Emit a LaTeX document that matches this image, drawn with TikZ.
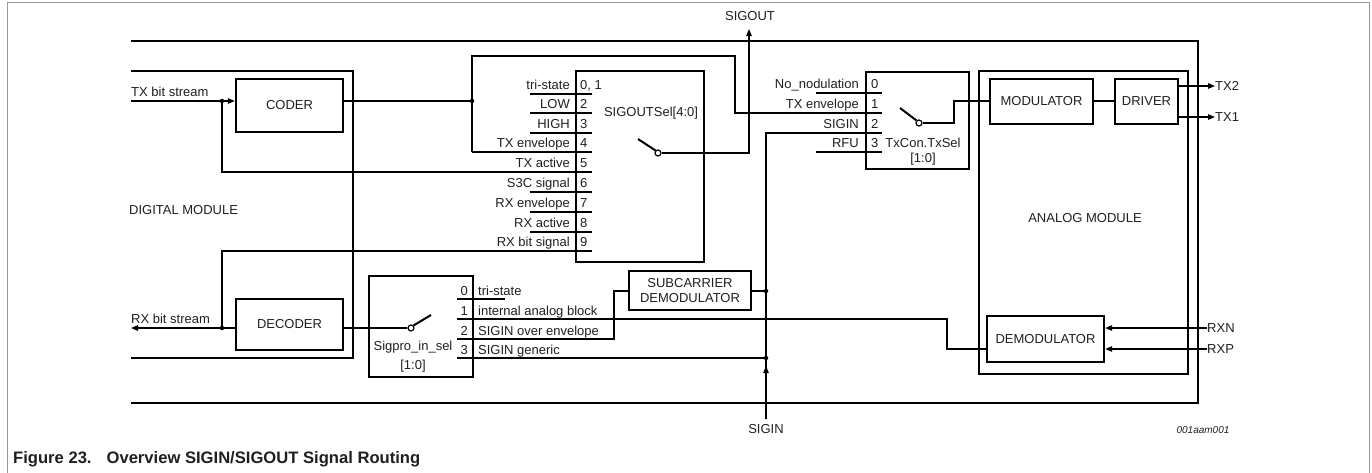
\documentclass[tikz,border=0pt]{standalone}
\usepackage{fontspec}
\setmainfont{Liberation Sans}
\usetikzlibrary{arrows.meta}
\begin{document}
\begin{tikzpicture}[x=1pt,y=-1pt,
  font=\fontsize{13}{16}\selectfont, text=black!88,
  thin/.style={line width=1.2pt},
  modline/.style={line width=2.7pt},
  box/.style={draw, line width=2.4pt, inner sep=0pt, align=center},
  dot/.style={circle, fill, inner sep=0pt, minimum size=4.5pt},
  sw/.style={circle, draw, fill=white, line width=1.2pt, inner sep=0pt, minimum size=6pt},
  lever/.style={line width=2pt},
  arr/.style={-{Triangle[length=7pt,width=5.5pt]}},
  lbl/.style={inner sep=0pt, text height=9.3pt, text depth=0pt}]
\useasboundingbox (0,0) rectangle (1372,472);
% outer frame
\draw[black!40, line width=1pt] (7,480) -- (7,2) -- (1369,2) -- (1369,480);
% chip and module outlines
\draw[modline] (131,41) -- (1198,41) -- (1198,403) -- (131,403);
\draw[modline] (131,71) -- (353,71) -- (353,358) -- (131,358);
\node[draw, modline, minimum width=209pt, minimum height=303pt, inner sep=0pt] (analog) at (1083.5,222.5) {};
\node at (1085,218) {ANALOG MODULE};
\node[anchor=west, inner sep=0pt] at (129,210) {DIGITAL MODULE};
% boxes
\node[box, minimum width=107pt, minimum height=53pt] (coder) at (289.5,105.5) {CODER};
\node[box, minimum width=107pt, minimum height=51pt] (decoder) at (289.5,324.5) {DECODER};
\node[box, minimum width=128pt, minimum height=191pt] (sosel) at (640,166.5) {};
\node[box, minimum width=103pt, minimum height=97pt] (txcon) at (917.5,120.5) {};
\node[box, minimum width=104pt, minimum height=101pt] (sigpro) at (421,326.5) {};
\node[box, minimum width=122pt, minimum height=39pt] (subc) at (690,290.5) {SUBCARRIER\\[-1pt]DEMODULATOR};
\node[box, minimum width=103pt, minimum height=45pt] (mod) at (1041.5,101.5) {MODULATOR};
\node[box, minimum width=63pt, minimum height=45pt] (drv) at (1146.5,101.5) {DRIVER};
\node[box, minimum width=117pt, minimum height=46pt] (demod) at (1045.5,339) {DEMODULATOR};
% box texts
\node at (651,113) {SIGOUTSel[4:0]};
\node at (923,143) {TxCon.TxSel};
\node at (923,159) {[1:0]};
\node at (413,347) {Sigpro\_in\_sel};
\node at (413,366) {[1:0]};
% SIGOUTSel pins
\foreach \y/\lab/\num [count=\i] in {94/tri-state/{0, 1},113/LOW/2,133/HIGH/3,152/TX envelope/4,172/TX active/5,192/S3C signal/6,212/RX envelope/7,232/RX active/8,251/RX bit signal/9}{
  \node[lbl, anchor=east] at (570,\y-9) {\lab};
  \node[lbl, anchor=west] at (580,\y-9) {\num};
  \coordinate (so\i) at (592,\y);
  \draw[thin] (530,\y) -- (so\i);
}
% TxCon pins
\foreach \y/\lab/\num [count=\i] in {93/No\_nodulation/0,113/TX envelope/1,133/SIGIN/2,152/RFU/3}{
  \node[lbl, anchor=east] at (859,\y-9) {\lab};
  \node[lbl, anchor=west] at (871,\y-9) {\num};
  \coordinate (tc\i) at (882,\y);
  \draw[thin] (816,\y) -- (tc\i);
}
% Sigpro pins
\foreach \y/\lab/\num [count=\i] in {299/tri-state/0,319/internal analog block/1,339/SIGIN over envelope/2,358/SIGIN generic/3}{
  \node[lbl, anchor=east] at (468,\y-8.5) {\num};
  \node[lbl, anchor=west] at (478,\y-8.5) {\lab};
  \coordinate (sp\i) at (457,\y);
}
\draw[thin] (sp1) -- (505,299);
% switches
\node[sw] (sosw) at (658,153) {};
\draw[lever] (638,139) -- (sosw.north west);
\node[sw] (tcsw) at (919,123) {};
\draw[lever] (900,108) -- (tcsw.north west);
\node[sw] (spsw) at (411,328) {};
\draw[lever] (spsw.north east) -- (431,315);
% external labels
\node (sigout) at (750,16) {SIGOUT};
\coordinate (sigouttip) at (749,29);
\node (sigin) at (766,429) {SIGIN};
\coordinate (siginbot) at (766,419);
\node[anchor=west, inner sep=0pt] at (131,92) {TX bit stream};
\node[anchor=west, inner sep=0pt] at (131,319) {RX bit stream};
\coordinate (txin) at (131,101);
\coordinate (rxout) at (131,328);
\node[anchor=west, inner sep=0pt] (tx2) at (1215,86) {TX2};
\node[anchor=west, inner sep=0pt] (tx1) at (1215,117) {TX1};
\node[anchor=west, inner sep=0pt] (rxn) at (1207,328) {RXN};
\node[anchor=west, inner sep=0pt] (rxp) at (1207,349) {RXP};
% dots
\node[dot] (dtx) at (222,101) {};
\node[dot] (drx) at (222,328) {};
\node[dot] (dcod) at (472,101) {};
\node[dot] (dsub) at (766,291) {};
\node[dot] (dgen) at (766,358) {};
% connectors
\draw[thin, arr] (txin) -- (coder.west |- txin);
\draw[thin] (dtx) -- (222,172) -- (so5);
\draw[thin, arr] (decoder.west |- rxout) -- (rxout);
\draw[thin] (drx) -- (222,251) -- (so9);
\draw[thin] (coder.east |- dcod) -- (dcod);
\draw[thin] (472,152) -- (so4);
\draw[thin] (so4 -| dcod) -- (472,56) -- (735,56) -- (735,113) -- (tc2);
\draw[thin, arr] (sosw.east) -- (sigouttip |- sosw) -- (sigouttip);
\draw[thin] (siginbot) -- (766,133) -- (tc3);
\draw[thin, arr] (siginbot) -- (766,366);
\draw[thin] (subc.east |- dsub) -- (dsub);
\draw[thin] (subc.west |- dsub) -- (614,291) -- (614,339) -- (sp3);
\draw[thin] (sp4) -- (dgen);
\draw[thin] (sp2) -- (947,319) -- (947,349) -- (demod.west |- 0,349);
\draw[thin] (decoder.east |- spsw) -- (spsw.west);
\draw[thin] (tcsw.east) -- (954,123) -- (954,101) -- (mod.west |- 0,101);
\draw[thin] (mod.east |- 0,101) -- (drv.west |- 0,101);
\draw[thin, arr] (drv.east |- tx2) -- (tx2.west);
\draw[thin, arr] (drv.east |- tx1) -- (tx1.west);
\draw[thin, arr] (rxn.west) -- (demod.east |- rxn);
\draw[thin, arr] (rxp.west) -- (demod.east |- rxp);
% figure id and caption
\node[font=\itshape\fontsize{10}{12}\selectfont] at (1203,430) {001aam001};
\node[anchor=west, inner sep=0pt, font=\bfseries\fontsize{16.6}{20}\selectfont] at (13,459) {Figure 23.\hspace{15pt}Overview SIGIN/SIGOUT Signal Routing};
\end{tikzpicture}
\end{document}
